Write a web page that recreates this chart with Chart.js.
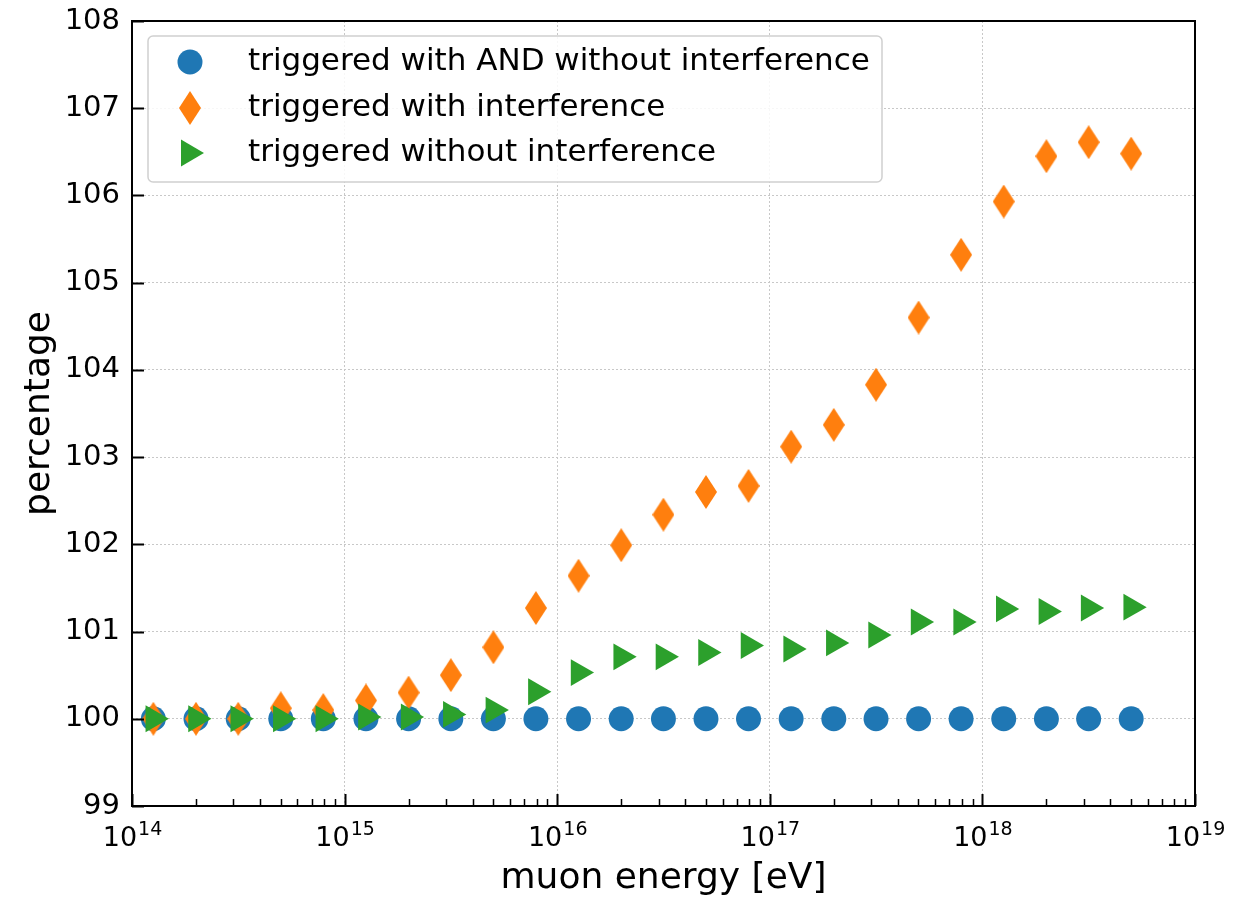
<!DOCTYPE html>
<html>
<head>
<meta charset="utf-8">
<script src="https://cdn.jsdelivr.net/npm/chart.js@4"></script>
<style>
  html, body { margin: 0; padding: 0; background: #fff; }
  #wrap { width: 1234px; height: 900px; }
</style>
</head>
<body>
<div id="wrap"><canvas id="muonChart" width="1234" height="900"></canvas></div>
<script>
const energies = [1.26e14, 2.0e14, 3.16e14, 5.01e14, 7.94e14, 1.26e15, 2.0e15, 3.16e15,
                  5.01e15, 7.94e15, 1.26e16, 2.0e16, 3.16e16, 5.01e16, 7.94e16, 1.26e17,
                  2.0e17, 3.16e17, 5.01e17, 7.94e17, 1.26e18, 2.0e18, 3.16e18, 5.01e18];
const andNoInterference = [100, 100, 100, 100, 100, 100, 100, 100, 100, 100, 100, 100,
                           100, 100, 100, 100, 100, 100, 100, 100, 100, 100, 100, 100];
const withInterference = [100.0, 100.0, 100.0, 100.12, 100.1, 100.21, 100.3, 100.5,
                          100.82, 101.27, 101.64, 101.99, 102.34, 102.6, 102.67, 103.12,
                          103.37, 103.83, 104.6, 105.32, 105.93, 106.45, 106.61, 106.48];
const withoutInterference = [100.0, 100.0, 100.0, 100.0, 100.0, 100.02, 100.02, 100.05,
                             100.1, 100.31, 100.53, 100.71, 100.71, 100.76, 100.84, 100.8,
                             100.87, 100.96, 101.11, 101.11, 101.26, 101.23, 101.27, 101.28];
const seriesLabels = ['triggered with AND without interference',
                      'triggered with interference',
                      'triggered without interference'];
const xTickValues = [1e14, 1e15, 1e16, 1e17, 1e18, 1e19];
const xTickExponents = ['14', '15', '16', '17', '18', '19'];
const yTickValues = [99, 100, 101, 102, 103, 104, 105, 106, 107, 108];
const minorMultipliers = [2, 3, 4, 5, 6, 7, 8, 9];

const FONT = '"DejaVu Sans", sans-serif';
const colors = ['#1f77b4', '#ff7f0e', '#2ca02c'];

function toPoints(ys) {
    return energies.map((x, i) => ({ x: x, y: ys[i] }));
}

// thin diamond like matplotlib's 'd' marker
function diamondMarker(color, w, h) {
    const c = document.createElement('canvas');
    c.width = w;
    c.height = h;
    const g = c.getContext('2d');
    g.fillStyle = color;
    g.beginPath();
    g.moveTo(w / 2, 0);
    g.lineTo(w, h / 2);
    g.lineTo(w / 2, h);
    g.lineTo(0, h / 2);
    g.closePath();
    g.fill();
    return c;
}
const diamond = diamondMarker(colors[1], 22, 34);

// box, inward ticks, 10^n labels and legend in matplotlib style
const framePlugin = {
    id: 'frame',
    afterDatasetsDraw(chart) {
        const ctx = chart.ctx;
        const a = chart.chartArea;
        const xs = chart.scales.x;
        const ys = chart.scales.y;
        ctx.save();

        ctx.strokeStyle = '#000';
        ctx.lineWidth = 2;
        ctx.beginPath();
        xTickValues.forEach(v => {
            const px = Math.round(xs.getPixelForValue(v)) + 0.5;
            ctx.moveTo(px, a.bottom);
            ctx.lineTo(px, a.bottom - 12);
        });
        yTickValues.forEach(v => {
            const py = Math.round(ys.getPixelForValue(v)) + 0.5;
            ctx.moveTo(a.left, py);
            ctx.lineTo(a.left + 12, py);
        });
        ctx.stroke();

        ctx.lineWidth = 1.5;
        ctx.beginPath();
        xTickValues.slice(0, -1).forEach(p => {
            minorMultipliers.forEach(m => {
                const px = Math.round(xs.getPixelForValue(p * m)) + 0.5;
                ctx.moveTo(px, a.bottom);
                ctx.lineTo(px, a.bottom - 7);
            });
        });
        ctx.stroke();

        ctx.lineWidth = 2;
        ctx.strokeRect(a.left, a.top, a.right - a.left, a.bottom - a.top);

        // x tick labels as 10 with raised exponent
        ctx.fillStyle = '#000';
        ctx.textBaseline = 'alphabetic';
        ctx.textAlign = 'left';
        xTickValues.forEach((v, i) => {
            const px = xs.getPixelForValue(v);
            ctx.font = '27px ' + FONT;
            const wBase = ctx.measureText('10').width;
            ctx.font = '19px ' + FONT;
            const wExp = ctx.measureText(xTickExponents[i]).width;
            const x0 = px - (wBase + wExp) / 2;
            ctx.font = '27px ' + FONT;
            ctx.fillText('10', x0, a.bottom + 40);
            ctx.font = '19px ' + FONT;
            ctx.fillText(xTickExponents[i], x0 + wBase + 1, a.bottom + 29);
        });

        // legend
        const lx = 148, ly = 36, lw = 734, lh = 146;
        ctx.beginPath();
        ctx.roundRect(lx, ly, lw, lh, 5);
        ctx.fillStyle = 'rgba(255,255,255,0.85)';
        ctx.fill();
        ctx.strokeStyle = '#d0d0d0';
        ctx.lineWidth = 1.5;
        ctx.stroke();

        const rows = [62, 108, 153];
        chart.data.datasets.forEach((ds, i) => {
            const y = rows[i];
            ctx.save();
            ctx.translate(190, y);
            if (i === 0) {
                ctx.fillStyle = colors[0];
                ctx.beginPath();
                ctx.arc(0, 0, 12.5, 0, Math.PI * 2);
                ctx.fill();
            } else if (i === 1) {
                ctx.drawImage(diamond, -diamond.width / 2, -diamond.height / 2);
            } else {
                ctx.fillStyle = colors[2];
                ctx.beginPath();
                ctx.moveTo(14, 0);
                ctx.lineTo(-9, -13.5);
                ctx.lineTo(-9, 13.5);
                ctx.closePath();
                ctx.fill();
            }
            ctx.restore();
            ctx.fillStyle = '#000';
            ctx.font = '31px ' + FONT;
            ctx.textBaseline = 'middle';
            ctx.textAlign = 'left';
            ctx.fillText(ds.label, 248, y);
        });
        ctx.restore();
    }
};

new Chart(document.getElementById('muonChart').getContext('2d'), {
    type: 'scatter',
    data: {
        datasets: [{
            label: seriesLabels[0],
            data: toPoints(andNoInterference),
            backgroundColor: colors[0],
            borderWidth: 0,
            pointRadius: 12.5,
            order: 3
        }, {
            label: seriesLabels[1],
            data: toPoints(withInterference),
            backgroundColor: colors[1],
            borderWidth: 0,
            pointStyle: diamond,
            order: 2
        }, {
            label: seriesLabels[2],
            data: toPoints(withoutInterference),
            backgroundColor: colors[2],
            borderWidth: 0,
            pointStyle: 'triangle',
            rotation: 90,
            pointRadius: 15.5,
            order: 1
        }]
    },
    options: {
        responsive: false,
        animation: false,
        events: [],
        layout: { padding: { top: 21, right: 39, left: 0, bottom: 0 } },
        plugins: {
            legend: { display: false },
            tooltip: { enabled: false }
        },
        scales: {
            x: {
                type: 'logarithmic',
                min: 1e14,
                max: 1e19,
                afterBuildTicks: s => { s.ticks = xTickValues.map(v => ({ value: v })); },
                afterFit: s => { s.height = 94; s.paddingLeft = 0; s.paddingRight = 0; },
                ticks: { display: false },
                grid: { color: '#c8c8c8', lineWidth: 1, drawTicks: false },
                border: { display: false, dash: [2, 2] },
                title: {
                    display: true,
                    text: 'muon energy [eV]',
                    color: '#000',
                    font: { family: FONT, size: 36 },
                    padding: { top: 0, bottom: 0 }
                }
            },
            y: {
                min: 99,
                max: 108,
                afterBuildTicks: s => { s.ticks = yTickValues.map(v => ({ value: v })); },
                afterFit: s => { s.width = 132; s.paddingTop = 0; s.paddingBottom = 0; },
                ticks: {
                    padding: 12,
                    color: '#000',
                    font: { family: FONT, size: 29 }
                },
                grid: { color: '#c8c8c8', lineWidth: 1, drawTicks: false },
                border: { display: false, dash: [2, 2] },
                title: {
                    display: true,
                    text: 'percentage',
                    color: '#000',
                    font: { family: FONT, size: 36 },
                    padding: { top: 18, bottom: 0 }
                }
            }
        }
    },
    plugins: [framePlugin]
});
</script>
</body>
</html>
